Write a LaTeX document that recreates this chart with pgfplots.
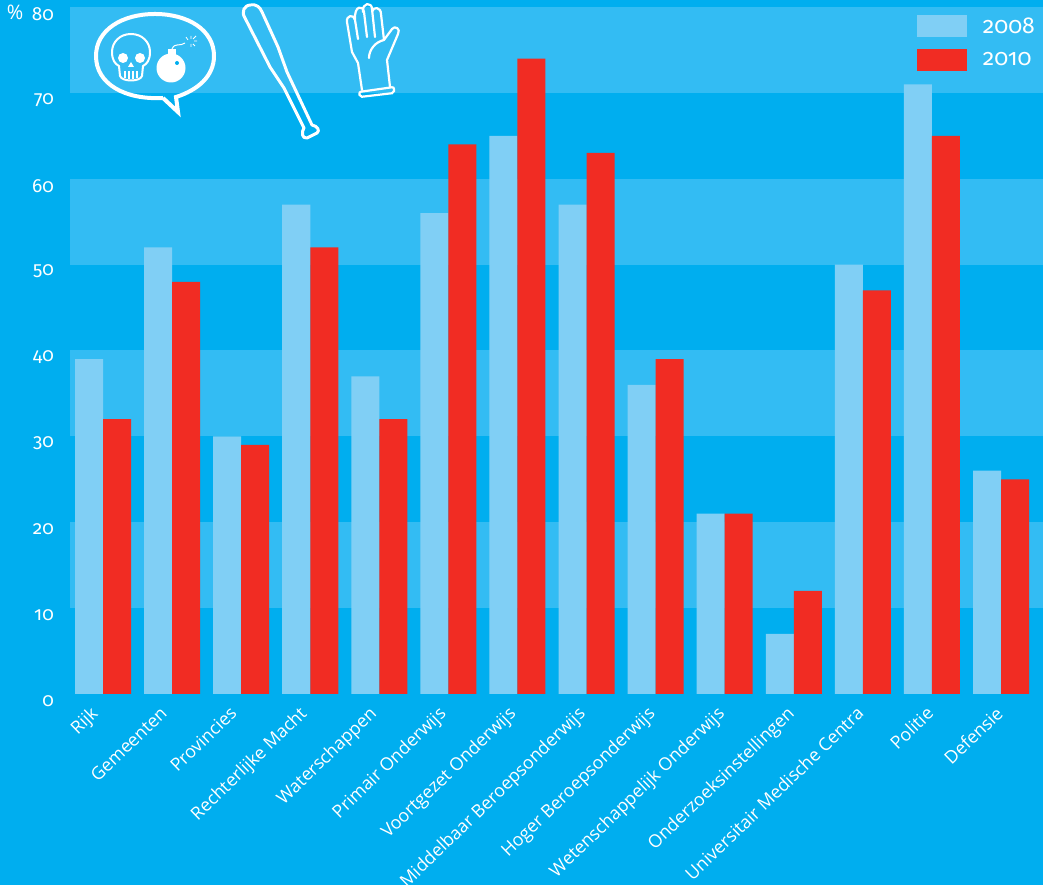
\documentclass[border=0pt]{standalone}
\usepackage{fontspec}
\usepackage{pgfplots}
\pgfplotsset{compat=1.18}
\setmainfont{Open Sans}
\newfontfamily\numfont[Numbers=OldStyle]{Fira Sans}
\definecolor{bg}{HTML}{00AEEF}
\definecolor{band}{HTML}{33BCF3}
\definecolor{lightbar}{HTML}{80CFF5}
\definecolor{redbar}{HTML}{F12C23}
% icon coordinates are in reference pixels, y measured from the top
\tikzset{px/.style={x=1pt,y=-1pt,yshift=885pt}}
\begin{document}
\begin{tikzpicture}
\useasboundingbox (0,0) rectangle (1043pt,885pt);
\clip (0,0) rectangle (1043pt,885pt);
\fill[bg] (0,0) rectangle (1043pt,885pt);
\begin{axis}[
    at={(70pt,191pt)}, anchor=south west,
    scale only axis, width=973pt, height=687pt,
    xmin=-0.478, xmax=13.608, ymin=0, ymax=80,
    axis line style={draw=none},
    major tick style={draw=none},
    ytick={0,10,...,80},
    % the labels drift a little to the right of the bars in the original
    xtick={0.022,1.030,2.038,3.046,4.054,5.062,6.070,7.078,8.086,9.094,10.102,11.110,12.118,13.126},
    xticklabels={Rijk,Gemeenten,Provincies,Rechterlijke Macht,Waterschappen,Primair Onderwijs,Voortgezet Onderwijs,Middelbaar Beroepsonderwijs,Hoger Beroepsonderwijs,Wetenschappelijk Onderwijs,Onderzoeksinstellingen,Universitair Medische Centra,Politie,Defensie},
    x tick label style={rotate=44, anchor=north east, text=white, font=\fontsize{17.8}{20}\selectfont, inner sep=0pt, xshift=-18.5pt, yshift=2.5pt},
    y tick label style={text=white, font=\numfont\fontsize{19}{22}\selectfont, /pgf/number format/assume math mode=true, inner sep=0pt, xshift=-16pt, yshift=-7pt},
    legend style={at={(axis cs:11.78,79.05)}, anchor=north west, draw=none, fill=none, text=white, font=\numfont\fontsize{23}{25}\selectfont, row sep=11.5pt, inner sep=0pt, /tikz/every odd column/.append style={column sep=14pt}},
    legend cell align=left,
    legend image code/.code={\fill[#1] (0pt,-11pt) rectangle (50pt,11pt);},
]
\addplot[forget plot, fill=band, draw=none] coordinates {(-0.478,10) (13.608,10) (13.608,20) (-0.478,20)} -- cycle;
\addplot[forget plot, fill=band, draw=none] coordinates {(-0.478,30) (13.608,30) (13.608,40) (-0.478,40)} -- cycle;
\addplot[forget plot, fill=band, draw=none] coordinates {(-0.478,50) (13.608,50) (13.608,60) (-0.478,60)} -- cycle;
\addplot[forget plot, fill=band, draw=none] coordinates {(-0.478,70) (13.608,70) (13.608,80) (-0.478,80)} -- cycle;
\addplot[ybar, bar width=28pt, bar shift=-14pt, fill=lightbar, draw=none] coordinates {
    (0,39) (1,52) (2,30) (3,57) (4,37) (5,56) (6,65) (7,57) (8,36) (9,21) (10,7) (11,50) (12,71) (13,26)};
\addlegendentry{2008}
\addplot[ybar, bar width=28pt, bar shift=14pt, fill=redbar, draw=none] coordinates {
    (0,32) (1,48) (2,29) (3,52) (4,32) (5,64) (6,74) (7,63) (8,39) (9,21) (10,12) (11,47) (12,65) (13,25)};
\addlegendentry{2010}
\end{axis}
\begin{scope}[px]
\node[text=white, font=\fontsize{20}{22}\selectfont, inner sep=0pt] at (15,12) {\%};
% speech bubble
\draw[white, line width=4pt, line join=miter] (163,98) .. controls (125,100) and (96,84) .. (96,56)
    .. controls (96,30) and (122,14) .. (155,14)
    .. controls (188,14) and (214,30) .. (214,56)
    .. controls (214,76) and (198,90) .. (176,97) -- (178,112) -- (163,98);
% skull
\draw[white, line width=2pt, line join=round] (131,34) .. controls (120,34) and (112,42) .. (112,52)
    .. controls (112,60) and (115,64) .. (119,66) -- (120,76) .. controls (122,82) and (140,82) .. (142,76)
    -- (143,66) .. controls (147,64) and (150,60) .. (150,52) .. controls (150,42) and (142,34) .. (131,34) -- cycle;
\fill[white] (123,58) circle (5pt) (140,58) circle (5pt);
\fill[white] (131,62) -- (128,67) -- (134,67) -- cycle;
\draw[white, line width=1.2pt] (125,71) -- (125,78) (129,71) -- (129,79) (133,71) -- (133,79) (137,71) -- (137,78);
% bomb
\fill[white] (171,68) circle (14.5pt);
\fill[white] (168,49) rectangle (176,56);
\fill[bg] (177,63) circle (2pt);
\draw[white, line width=1pt] (172,49) .. controls (175,42) and (180,47) .. (185,43);
\draw[white, line width=0.8pt] (191,36) -- (191,39) (197,41) -- (194,41) (186,37) -- (188,40) (196,36) -- (193,39) (195,46) -- (193,44) (191,47) -- (191,44);
% bat
\draw[white, line width=3pt, line join=round] (245,18) .. controls (241,12) and (244,5) .. (251,5)
    .. controls (256,4) and (260,7) .. (262,12) -- (278,47) -- (287,72) -- (312,125)
    .. controls (318,126) and (320,131) .. (317,133) -- (307,138) .. controls (302,139) and (301,132) .. (304,128)
    -- (284,88) -- (270,67) -- cycle;
% glove
\draw[white, line width=2.2pt, line join=round, line cap=round] (362,90) -- (358,63) -- (352,52) -- (347,22)
    .. controls (346,15) and (354,14) .. (355,20) -- (358,39)
    (355,20) .. controls (354,5) and (363,5) .. (364,12) -- (367,37)
    (363,12) .. controls (362,2) and (372,2) .. (372,9) -- (375,37)
    (372,12) .. controls (373,6) and (381,7) .. (381,14) -- (384,40)
    .. controls (386,37) and (390,32) .. (392,29) .. controls (395,25) and (401,29) .. (398,34)
    -- (387,60) -- (390,87);
\draw[white, line width=2.2pt, line cap=round] (369,58) .. controls (369,50) and (375,42) .. (384,40);
\draw[white, line width=2.2pt, rounded corners=2pt] (359,92) -- (394,87) -- (394,93) -- (360,97) -- cycle;
\end{scope}
\end{tikzpicture}
\end{document}
